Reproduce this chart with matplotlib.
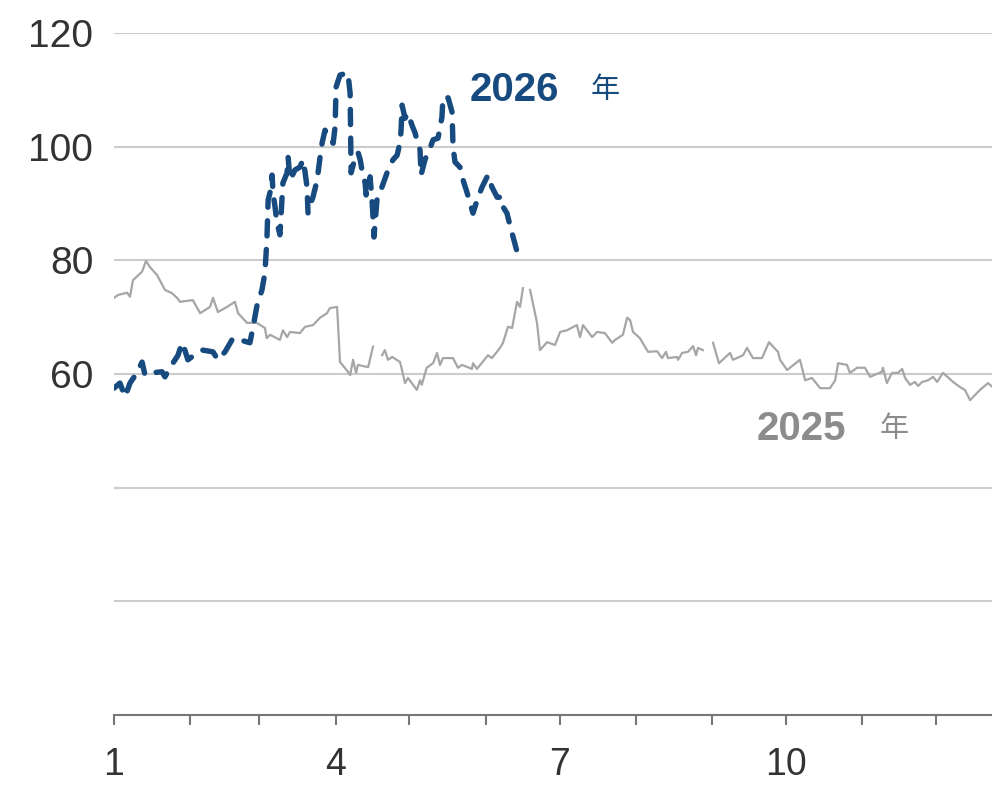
import numpy as np
import matplotlib.pyplot as plt

plt.rcParams['font.family'] = ['Liberation Sans', 'Noto Sans CJK JP', 'DejaVu Sans']

# day of year (0 = Jan 1) and values; nan marks a gap in the 2025 line
days_2025 = [0, 1.6, 5.3, 6.5, 7.7, 11.4, 13, 14.6, 17.5, 20.7, 23.6, 25.6, 26.8, 32, 35, 39, 40.2, 42.2,
             45.9, 49.1, 50.4, 54, 58, 61.3, 62, 63.4, 67.4, 68.6, 70.3, 71.5, 75.5, 77.6, 80.8, 83.7,
             86.5, 87.7, 90.6, 91.8, 95, 95.9, 97.1, 98.3, 99.1, 103.2, 105.2, 107,
             108.9, 110, 111.3, 113, 116.2, 118.2, 119.4, 123, 124.3, 125, 127, 129.6, 131.2, 132.4,
             133.6, 137.7, 139.7, 141.3, 145.4, 145.8, 147.4, 151.9, 153.5, 156.8, 158, 160, 161.7,
             163.7, 164.9, 166.1, 167.5,
             169, 171.8, 173, 175.9, 179.1, 181.2, 184, 188, 189.3, 190.5, 194.2, 196.2, 199.4, 202.3,
             203.5, 206.7, 208.4, 209.6, 210.8, 213.6, 216.9, 220.6, 222.6, 224.2, 225, 228.7, 229.1,
             230.7, 233.1, 235.2, 236.4, 237.2, 239.2, 241,
             243.3, 245.7, 250.2, 251.4, 255.5, 257.1, 259.5, 263.2, 266, 267.7, 269.7, 270.5, 273.4,
             278.6, 280.7, 283.5, 286.8, 290.8, 292.9, 294.1, 297.7, 298.9, 301.8, 305, 307.1, 311.9,
             312.3, 313.9, 316, 318.4, 320.1, 321.3, 323.3, 325.3, 326.6, 328.2, 330.6, 332.7, 334.3,
             336.7, 340.8, 343.6, 345.6, 347.7, 351.7, 355, 356.6]
vals_2025 = [73.4, 73.9, 74.3, 73.6, 76.5, 78, 79.9, 78.8, 77.4, 74.8, 74.2, 73.4, 72.7, 73, 70.7, 71.8,
             73.4, 70.9, 71.8, 72.7, 70.7, 69, 69, 68.1, 66.3, 66.9, 66, 67.7, 66.5, 67.4, 67.2, 68.3,
             68.6, 69.9, 70.7, 71.6, 71.8, 62.1, 60.4, 59.8, 62.5, 60.2, 61.6, 61.2, 64.8, np.nan,
             63.3, 64.2, 62.5, 63, 62.1, 58.4, 59.3, 57.2, 58.9, 58.1, 61.1, 61.9, 63.7, 61.6, 62.8,
             62.8, 61.1, 61.6, 60.9, 61.9, 60.9, 63.3, 62.8, 64.6, 65.5, 68.3, 68.1, 72.7, 71.8, 75.1,
             np.nan,
             74.8, 69, 64.2, 65.6, 65.1, 67.4, 67.7, 68.6, 66.5, 68.6, 66.5, 67.4, 67.2, 65.5, 66, 66.9,
             69.9, 69.5, 67.4, 66.3, 63.9, 64, 62.8, 63.9, 62.8, 63, 62.5, 63.7, 63.9, 64.9, 63.3, 64.6,
             64.2, np.nan,
             65.5, 61.9, 63.7, 62.5, 63.3, 64.6, 62.8, 62.8, 65.6, 64.8, 63.9, 62.5, 60.7, 62.5, 58.9,
             59.3, 57.5, 57.5, 58.9, 61.9, 61.6, 60.2, 61.1, 61.1, 59.5, 60.4, 61.1, 58.4, 60.2, 60.2,
             60.9, 59.3, 58.1, 58.6, 57.9, 58.6, 58.9, 59.5, 58.6, 60.2, 58.6, 57.7, 57.2, 55.4, 57.2,
             58.4, 57.8]

days_2026 = [0, 2.4, 4.5, 6.5, 9.3, 11.4, 12.6, 15.4, 19.5, 20.7, 22.7, 26, 27.6, 28.8, 30, 33.7, 36.1,
             40.2, 42.2, 45.1, 48.3, 51.2, 55.2, 56.5, 58.1, 60.1, 61.3, 62.1, 62.6, 63.4, 64.2, 64.6,
             65.4, 66.2, 67.4, 68.2, 68.6, 70.3, 70.7, 71.5, 73.5, 75.5, 76.8, 77.6, 78.4, 78.8, 79.6,
             80.8, 82.5, 83.7, 84.5, 85.7, 87.7, 89, 89.8, 90.2, 91.8, 95, 95.9, 96.3, 97.9, 99.1, 100,
             100.7, 102, 102.4, 104, 104.8, 105.2, 105.6, 106.8, 108, 110.9, 113.3, 115, 116.2, 116.6,
             117, 118.2, 119.4, 121, 122.3, 123, 124.3, 124.7, 126.3, 128.4, 129.6, 131.6, 133.2,
             133.6, 135.7, 137.3, 137.7, 138.5, 140.5, 141.8, 143.4, 144.6, 145.8, 147.8, 149.5, 151.9,
             153.5, 155.6, 157.6, 158, 159.6, 160.8, 163.7]
vals_2026 = [57.5, 58.4, 56, 58.4, 60.2, 62.1, 59.8, 60.2, 60.4, 59.5, 61.1, 63.3, 65.5, 64.2, 62.5,
             63.7, 64.2, 63.9, 62.5, 63.9, 66.3, 66, 65.5, 68.3, 72.1, 74.8, 77.8, 83.6, 90.6, 92, 95,
             91.9, 89.4, 86.6, 84.5, 90.6, 93.6, 95.4, 98.2, 94.1, 95.9, 96.4, 97.7, 95.5, 92.9, 88.3,
             89.7, 91.1, 94.1, 98.2, 100.6, 102.9, 101.5, 100.6, 103.5, 110.5, 112.6, 113, 109.4, 95.4,
             98, 99, 97.7, 95.9, 93.6, 91.5, 94.7, 90.6, 87.6, 84.1, 90.6, 91.9, 95.4, 97.7, 98.5, 100.8,
             102.9, 107.3, 105, 105.9, 103.8, 102.4, 101.2, 99.4, 95, 97.7, 99.8, 101.2, 101.5, 105.2,
             108.7, 108.6, 106.1, 99.9, 97.3, 96.4, 94.1, 91.9, 90.1, 88.3, 91, 92.9, 95, 92.9, 91.1,
             91.1, 89.4, 88.3, 86.2, 81.5]

month_starts = [0, 31, 59, 90, 120, 151, 181, 212, 243, 273, 304, 334]
month_labels = ['1', '', '', '4', '', '', '7', '', '', '10', '', '']
y_grid = [20, 40, 60, 80, 100, 120]
y_labels = ['', '', '60', '80', '100', '120']

blue = '#174a7e'
gray_line = '#a6a6a6'
gray_text = '#8c8c8c'

fig = plt.figure(figsize=(9.92, 7.85), dpi=100)
ax = fig.add_axes([114 / 992, 70 / 785, 1 - 114 / 992, (715 - 33) / 785])

ax.plot(days_2025, vals_2025, color=gray_line, lw=1.6, zorder=2)
ax.plot(days_2026, vals_2026, color=blue, lw=3.9, linestyle=(0, (2.8, 2.5)),
        dash_capstyle='round', zorder=3)

ax.set_xlim(0, 356.6)
ax.set_ylim(0, 120)

ax.set_yticks(y_grid)
ax.set_yticklabels(y_labels)
ax.set_xticks(month_starts)
ax.set_xticklabels(month_labels)
ax.grid(axis='y', color='#cccccc', lw=1.5, zorder=0)
ax.set_axisbelow(True)

for s in ['top', 'right', 'left']:
    ax.spines[s].set_visible(False)
ax.spines['bottom'].set_color('#777777')
ax.spines['bottom'].set_linewidth(1.5)

ax.tick_params(axis='y', length=0, pad=15, labelsize=28, labelcolor='#333333')
ax.tick_params(axis='x', length=7, width=1.5, color='#777777', pad=16, labelsize=27,
               labelcolor='#333333')

ax.text(144.5, 110, '2026', color=blue, fontsize=29, fontweight='bold', va='center')
ax.text(193.5, 110, '年', color=blue, fontsize=21, va='center')
ax.text(261, 50.3, '2025', color=gray_text, fontsize=29, fontweight='bold', va='center')
ax.text(311, 50.3, '年', color=gray_text, fontsize=21, va='center')

fig.savefig('out.png', dpi=100)
